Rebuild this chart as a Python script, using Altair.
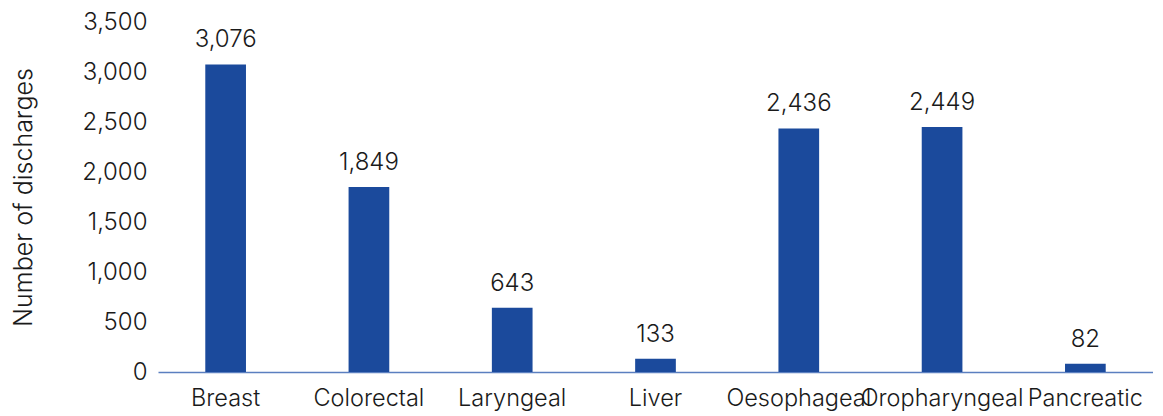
import altair as alt
import pandas as pd

categories = ["Breast", "Colorectal", "Laryngeal", "Liver", "Oesophageal", "Oropharyngeal", "Pancreatic"]
discharges = [3076, 1849, 643, 133, 2436, 2449, 82]
y_ticks = [0, 500, 1000, 1500, 2000, 2500, 3000, 3500]

df = pd.DataFrame({"cancer": categories, "discharges": discharges})

FONT = "Inter"
W = 300
TEXT = "#1a1a1a"
BAR = "#1B4A9C"

x = alt.X("cancer:N", sort=categories, title=None,
          scale=alt.Scale(paddingInner=0.716, paddingOuter=0.33),
          axis=alt.Axis(labelAngle=0, labelFontSize=23.5, labelFont=FONT, labelColor=TEXT,
                        labelFontWeight=W, labelPadding=14, ticks=False,
                        domainColor="#5B7FC0", domainWidth=1.5))
y = alt.Y("discharges:Q", title="Number of discharges",
          scale=alt.Scale(domain=[0, 3500], nice=False),
          axis=alt.Axis(values=y_ticks, format=",d",
                        grid=False, domain=False, ticks=False, labelPadding=11,
                        labelFontSize=24, labelFont=FONT, labelColor=TEXT, labelFontWeight=W,
                        titleFontSize=25, titleFont=FONT, titleColor=TEXT,
                        titleFontWeight=W, titlePadding=45))

base = alt.Chart(df)
bars = base.mark_bar(color=BAR).encode(x=x, y=y)
labels = base.mark_text(dy=-12, baseline="bottom", fontSize=24, font=FONT, fontWeight=W,
                        color=TEXT).encode(
    x=alt.X("cancer:N", sort=categories), y="discharges:Q",
    text=alt.Text("discharges:Q", format=",d"))

chart = (bars + labels).properties(
    width=995, height=350,
    autosize=alt.AutoSizeParams(type="none"),
    padding={"left": 150, "top": 14, "right": 0, "bottom": 40},
).configure_view(stroke=None)

chart.save("out.html", embed_options={"renderer": "svg", "actions": False})
